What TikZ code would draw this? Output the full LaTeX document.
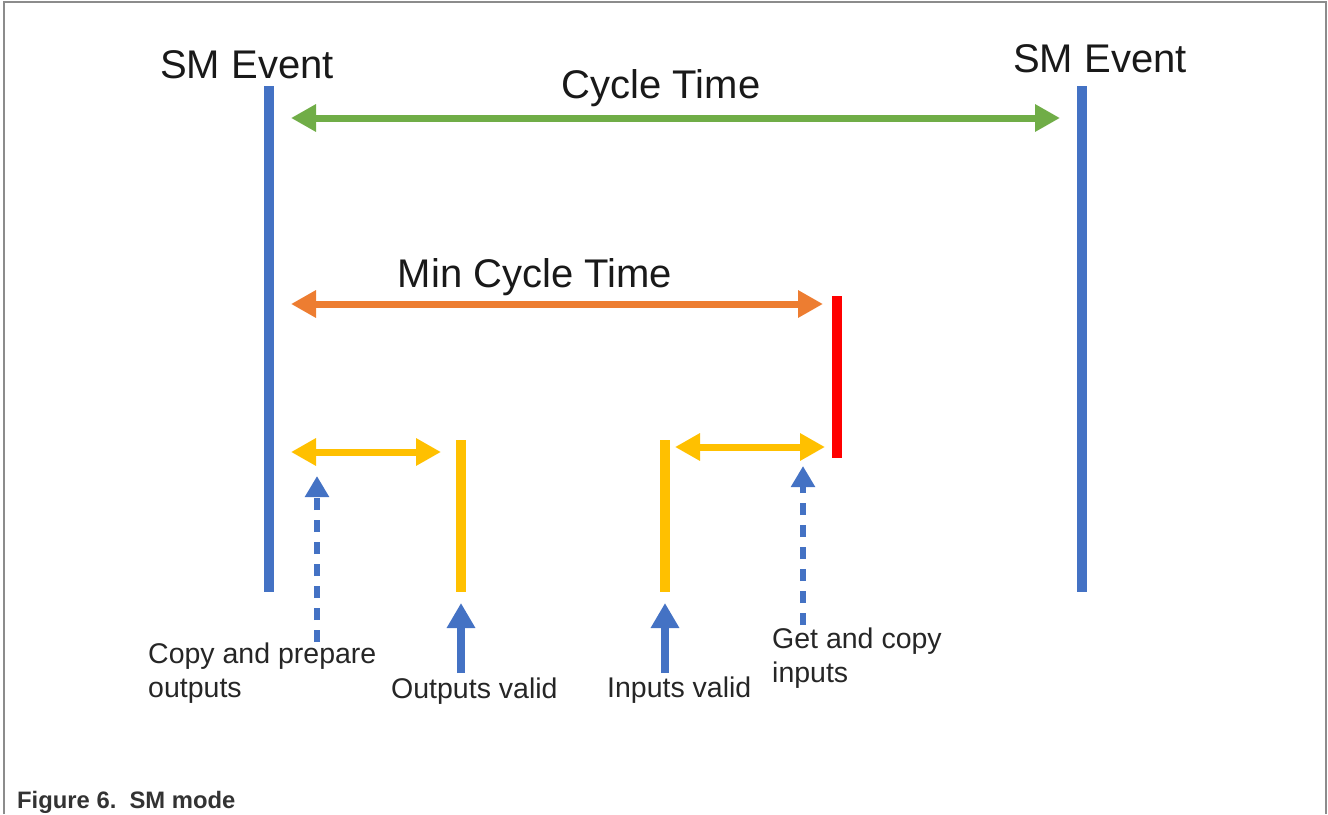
\documentclass[tikz,border=0pt]{standalone}
\usepackage{fontspec}
\setmainfont{Liberation Sans}
\usetikzlibrary{arrows.meta}
\definecolor{smblue}{HTML}{4472C4}
\definecolor{smgreen}{HTML}{70AD47}
\definecolor{smorange}{HTML}{ED7D31}
\definecolor{smyellow}{HTML}{FFC000}
\definecolor{smred}{HTML}{FF0000}
\definecolor{framegray}{HTML}{8C8C8C}
\begin{document}
\begin{tikzpicture}[x=1pt,y=-1pt,
  bar/.style={line width=10pt},
  span/.style={line width=7pt,{Triangle[length=25pt,width=26pt]}-{Triangle[length=25pt,width=26pt]}},
  upsolid/.style={smblue,line width=8pt,-{Triangle[length=25pt,width=27pt]}},
  updash/.style={smblue,line width=6pt,dash pattern=on 12pt off 10pt,-{Triangle[length=21pt,width=23pt]}},
  big/.style={font=\fontsize{40}{48}\selectfont,text=black!90,anchor=base},
  small/.style={font=\fontsize{28.5}{34}\selectfont,text=black!85,align=left,inner sep=0pt}]
\useasboundingbox (0,0) rectangle (1328,814);
\draw[framegray,line width=2pt] (4,814) -- (4,2) -- (1326,2) -- (1326,814);
% event bars
\coordinate (evAtop) at (269,86);   \coordinate (evAbot) at (269,592);
\coordinate (evBtop) at (1082,86);  \coordinate (evBbot) at (1082,592);
\coordinate (endtop) at (837,296);  \coordinate (endbot) at (837,458);
\coordinate (outtop) at (461,440);  \coordinate (outbot) at (461,592);
\coordinate (intop) at (665,440);   \coordinate (inbot) at (665,592);
\draw[bar,smblue] (evAtop) -- (evAbot);
\draw[bar,smblue] (evBtop) -- (evBbot);
\draw[bar,smred] (endtop) -- (endbot);
\draw[bar,smyellow] (outtop) -- (outbot);
\draw[bar,smyellow] (intop) -- (inbot);
% titles
\node[big] (evA) at (247,78) {SM Event};
\node[big] (evB) at (1100,72) {SM Event};
\node[big] (cyc) at (661,98) {Cycle Time};
\node[big] (mincyc) at (535,287) {Min Cycle Time};
% spans
\coordinate (cycL) at (291,118);  \coordinate (cycR) at (1060,118);
\coordinate (minL) at (291,304);  \coordinate (minR) at (823,304);
\coordinate (cpL) at (291,452);   \coordinate (cpR) at (441,452);
\coordinate (gcL) at (675,447);   \coordinate (gcR) at (825,447);
\draw[span,smgreen] (cycL) -- (cycR);
\draw[span,smorange] (minL) -- (minR);
\draw[span,smyellow] (cpL) -- (cpR);
\draw[span,smyellow] (gcL) -- (gcR);
% labels and pointers
\node[small,anchor=north west] (copy) at (148,643) {Copy and prepare\\outputs};
\node[small,anchor=base west] (outv) at (391,698) {Outputs valid};
\node[small,anchor=base west] (inv) at (607,697) {Inputs valid};
\node[small,anchor=north west] (getc) at (772,628) {Get and copy\\inputs};
\coordinate (copyfoot) at (317,642);  \coordinate (copytip) at (317,476);
\coordinate (outfoot) at (461,673);   \coordinate (outtip) at (461,603);
\coordinate (infoot) at (665,673);    \coordinate (intip) at (665,603);
\coordinate (getfoot) at (803,625);   \coordinate (gettip) at (803,466);
\draw[updash] (copyfoot) -- (copytip);
\draw[upsolid] (outfoot) -- (outtip);
\draw[upsolid] (infoot) -- (intip);
\draw[updash] (getfoot) -- (gettip);
\node[font=\fontsize{23.8}{28}\selectfont\bfseries,text=black!80,anchor=base west,inner sep=0pt] (fig) at (17,808) {Figure 6.\ \ SM mode};
\end{tikzpicture}
\end{document}
